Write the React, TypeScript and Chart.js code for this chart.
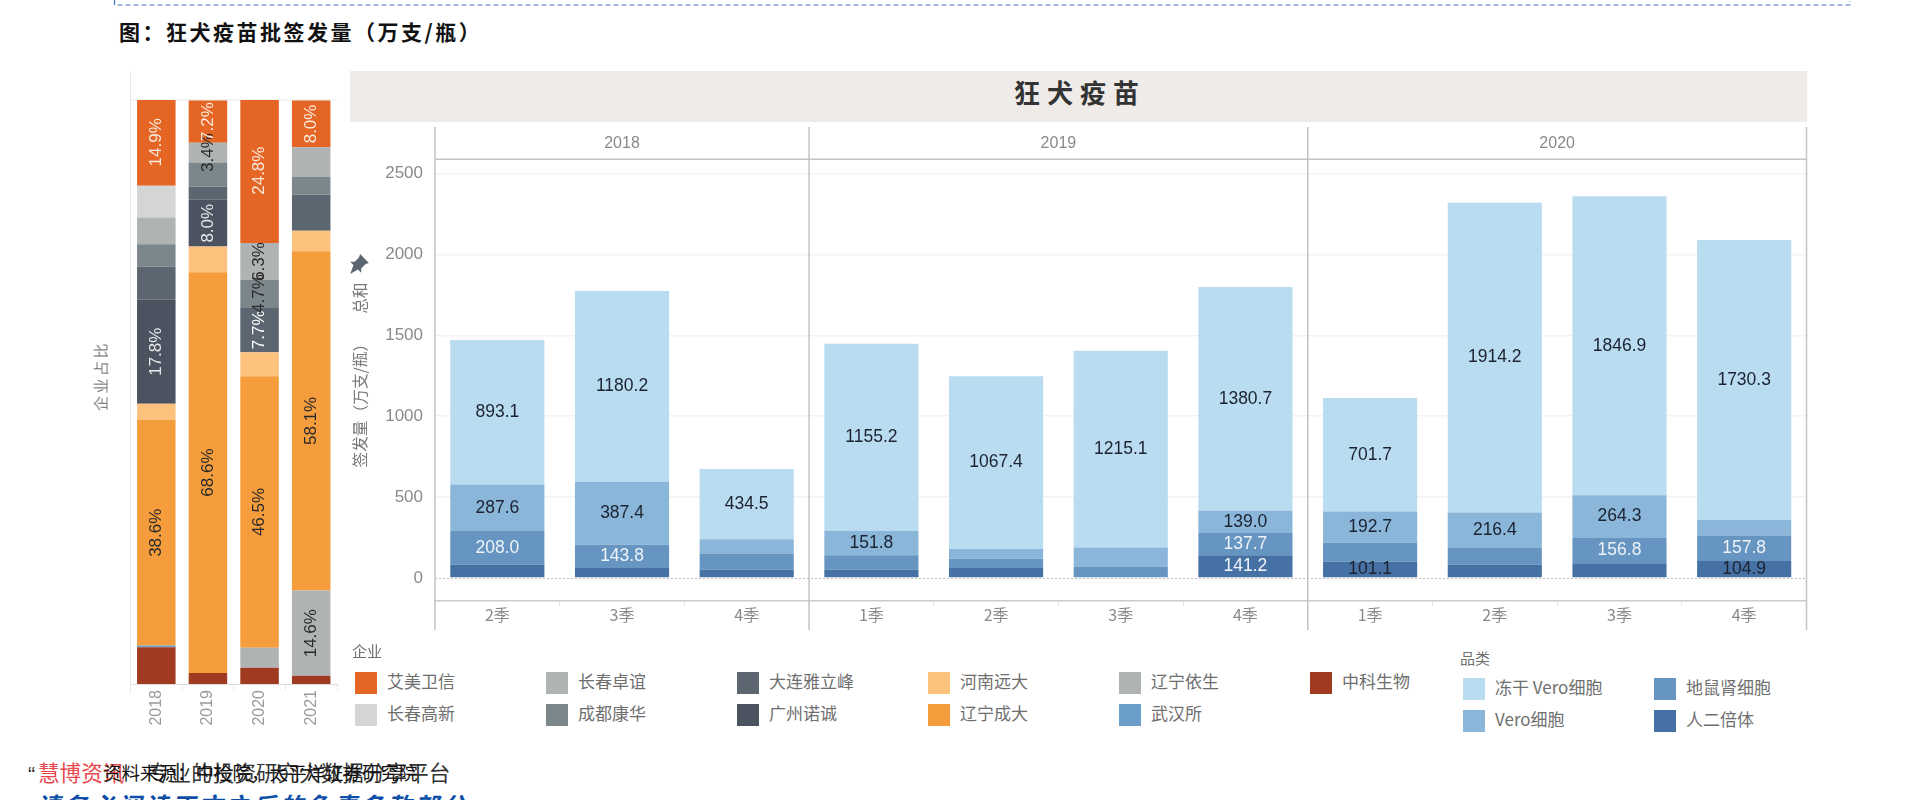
import { useEffect, useRef, type CSSProperties } from "react";
import { Chart, registerables, type Plugin } from "chart.js";

Chart.register(...registerables);

const SANS = '"Liberation Sans", sans-serif';
const CJK = '"Noto Sans CJK SC", sans-serif';

// left chart: company share per year, percent
const shareYears = ["2018", "2019", "2020", "2021"];
const zhongke = [6.3, 1.9, 2.8, 1.4];
const wuhan = [0.3, 0, 0, 0];
const yisheng = [0, 0, 3.4, 14.6];
const chengda = [38.6, 68.6, 46.5, 58.1];
const yuanda = [2.8, 4.4, 4.1, 3.5];
const nuocheng = [17.8, 8.0, 0, 0];
const yalifeng = [5.7, 2.3, 7.7, 6.2];
const kanghua = [3.8, 4.1, 4.7, 3.0];
const zhuoyi = [4.6, 3.4, 6.3, 5.1];
const gaoxin = [5.4, 0, 0, 0];
const aimei = [14.9, 7.2, 24.8, 8.0];

const chengdaText = ["38.6%", "68.6%", "46.5%", "58.1%"];
const yishengText = [null, null, null, "14.6%"];
const nuochengText = ["17.8%", "8.0%", null, null];
const yalifengText = [null, null, "7.7%", null];
const kanghuaText = [null, null, "4.7%", null];
const zhuoyiText = [null, "3.4%", "6.3%", null];
const aimeiText = ["14.9%", "7.2%", "24.8%", "8.0%"];

// main chart: batches per quarter
const quarters = ["2季", "3季", "4季", "1季", "2季", "3季", "4季", "1季", "2季", "3季", "4季"];
const panelYears = ["2018", "2019", "2020"];
const panelSizes = [3, 4, 4];
const diploid = [82, 62, 52, 52, 62, 0, 141.2, 101.1, 82, 91, 104.9];
const hamster = [208.0, 143.8, 99, 89, 58, 72, 137.7, 117, 107, 156.8, 157.8];
const vero = [287.6, 387.4, 88.6, 151.8, 60, 117, 139.0, 192.7, 216.4, 264.3, 97];
const freezeDried = [893.1, 1180.2, 434.5, 1155.2, 1067.4, 1215.1, 1380.7, 701.7, 1914.2, 1846.9, 1730.3];

const diploidText = [null, null, null, null, null, null, "141.2", "101.1", null, null, "104.9"];
const hamsterText = ["208.0", "143.8", null, null, null, null, "137.7", null, null, "156.8", "157.8"];
const veroText = ["287.6", "387.4", null, "151.8", null, null, "139.0", "192.7", "216.4", "264.3", null];
const freezeText = freezeDried.map((v) => v.toFixed(1));
const diploidTextColors = ["#fff", "#fff", "#fff", "#fff", "#fff", "#fff", "#f1f5f9", "#1c2230", "#fff", "#fff", "#1c2230"];

const yTicks = [0, 500, 1000, 1500, 2000, 2500];

const companyNames = ["艾美卫信", "长春高新", "长春卓谊", "成都康华", "大连雅立峰", "广州诺诚", "河南远大", "辽宁成大", "辽宁依生", "武汉所", "中科生物"];
const companyColors = ["#e46524", "#d4d5d5", "#b0b3b3", "#7c878c", "#5b6670", "#4b5260", "#fec27f", "#f59d3d", "#b0b3b3", "#6b9ec8", "#a03a21"];
const productNames = ["冻干 Vero细胞", "Vero细胞", "地鼠肾细胞", "人二倍体"];
const productColors = ["#b9dcf0", "#8ab6da", "#6595c0", "#4671a5"];

// writes the value text in the middle of each stacked segment
const segmentText: Plugin<"bar"> = {
  id: "segmentText",
  afterDatasetsDraw(chart) {
    const { ctx } = chart;
    const rotated = chart.canvas.dataset.rotated === "1";
    chart.data.datasets.forEach((ds: any, i) => {
      if (!ds.texts) return;
      chart.getDatasetMeta(i).data.forEach((bar: any, j) => {
        const text = ds.texts[j];
        if (!text) return;
        const mid = (bar.y + bar.base) / 2;
        ctx.save();
        ctx.translate(bar.x, mid);
        if (rotated) ctx.rotate(-Math.PI / 2);
        ctx.fillStyle = Array.isArray(ds.textColor) ? ds.textColor[j] : ds.textColor;
        ctx.font = `${rotated ? 17 : 17.5}px ${SANS}`;
        ctx.textAlign = "center";
        ctx.textBaseline = "middle";
        ctx.fillText(text, 0, 0);
        ctx.restore();
      });
    });
  },
};

const shareFrame: Plugin<"bar"> = {
  id: "shareFrame",
  beforeDatasetsDraw(chart) {
    const { ctx, chartArea } = chart;
    ctx.save();
    ctx.strokeStyle = "#e9e9e9";
    ctx.lineWidth = 1;
    ctx.beginPath();
    ctx.moveTo(chartArea.left, 11);
    ctx.lineTo(chartArea.left, chartArea.bottom + 10);
    ctx.moveTo(chartArea.left, chartArea.top);
    ctx.lineTo(chartArea.right, chartArea.top);
    ctx.stroke();
    ctx.restore();
  },
};

const panelFrame: Plugin<"bar"> = {
  id: "panelFrame",
  afterDatasetsDraw(chart) {
    const { ctx, chartArea, scales } = chart;
    const x = scales.x;
    const y = scales.y;
    const zero = y.getPixelForValue(0);
    ctx.save();
    ctx.strokeStyle = "#bdbdbd";
    ctx.setLineDash([2, 2]);
    ctx.lineWidth = 1;
    ctx.beginPath();
    ctx.moveTo(chartArea.left, zero + 0.5);
    ctx.lineTo(chartArea.right, zero + 0.5);
    ctx.stroke();
    ctx.setLineDash([]);

    ctx.strokeStyle = "#c4c4c4";
    ctx.lineWidth = 1.5;
    ctx.beginPath();
    ctx.moveTo(chartArea.left, chartArea.top);
    ctx.lineTo(chartArea.right, chartArea.top);
    ctx.stroke();

    const step = chartArea.width / quarters.length;
    let start = 0;
    const edges = [chartArea.left];
    panelSizes.forEach((size, i) => {
      const end = start + size;
      const left = x.getPixelForValue(start) - step / 2;
      const right = x.getPixelForValue(end - 1) + step / 2;
      edges.push(right);
      ctx.fillStyle = "#8a8a8a";
      ctx.font = `16px ${SANS}`;
      ctx.textAlign = "center";
      ctx.textBaseline = "middle";
      ctx.fillText(panelYears[i], (left + right) / 2, chartArea.top - 16);
      start = end;
    });
    ctx.beginPath();
    edges.forEach((edge) => {
      ctx.moveTo(edge, 2);
      ctx.lineTo(edge, chart.height - 5);
    });
    ctx.stroke();
    ctx.restore();
  },
};

function ShareChart() {
  const ref = useRef<HTMLCanvasElement>(null);

  useEffect(() => {
    if (!ref.current) return;
    const dark = "#2a2a2a";
    const light = "#ffffff";
    const chart = new Chart(ref.current, {
      type: "bar",
      data: {
        labels: shareYears,
        datasets: [
          { label: "中科生物", data: zhongke, backgroundColor: "#a03a21" },
          { label: "武汉所", data: wuhan, backgroundColor: "#6b9ec8" },
          { label: "辽宁依生", data: yisheng, backgroundColor: "#b0b3b3", texts: yishengText, textColor: dark },
          { label: "辽宁成大", data: chengda, backgroundColor: "#f59d3d", texts: chengdaText, textColor: dark },
          { label: "河南远大", data: yuanda, backgroundColor: "#fec27f" },
          { label: "广州诺诚", data: nuocheng, backgroundColor: "#4b5260", texts: nuochengText, textColor: "#e8e8e8" },
          { label: "大连雅立峰", data: yalifeng, backgroundColor: "#5b6670", texts: yalifengText, textColor: light },
          { label: "成都康华", data: kanghua, backgroundColor: "#7c878c", texts: kanghuaText, textColor: dark },
          { label: "长春卓谊", data: zhuoyi, backgroundColor: "#b0b3b3", texts: zhuoyiText, textColor: dark },
          { label: "长春高新", data: gaoxin, backgroundColor: "#d4d5d5" },
          { label: "艾美卫信", data: aimei, backgroundColor: "#e46524", texts: aimeiText, textColor: "#fbe9dd" },
        ] as any,
      },
      options: {
        responsive: false,
        animation: false,
        layout: { padding: { left: 30.5, top: 40, right: 8, bottom: 0 } },
        plugins: { legend: { display: false }, tooltip: { enabled: false } },
        datasets: { bar: { barPercentage: 0.746, categoryPercentage: 1 } },
        scales: {
          x: {
            stacked: true,
            grid: { offset: true, drawOnChartArea: false, color: "#e9e9e9", tickLength: 6 },
            border: { color: "#dddddd" },
            ticks: { color: "#9a9a9a", font: { family: SANS, size: 16 }, minRotation: 90, maxRotation: 90, padding: 0 },
            afterFit: (scale) => {
              scale.height = 61;
            },
          },
          y: { stacked: true, display: false, min: 0, max: 100 },
        },
      },
      plugins: [shareFrame, segmentText],
    });
    return () => chart.destroy();
  }, []);

  return (
    <canvas
      ref={ref}
      data-rotated="1"
      width={245}
      height={685}
      style={{ position: "absolute", left: 100, top: 60, display: "block" }}
    />
  );
}

function BatchChart() {
  const ref = useRef<HTMLCanvasElement>(null);

  useEffect(() => {
    if (!ref.current) return;
    const chart = new Chart(ref.current, {
      type: "bar",
      data: {
        labels: quarters,
        datasets: [
          { label: "人二倍体", data: diploid, backgroundColor: "#4671a5", texts: diploidText, textColor: diploidTextColors },
          { label: "地鼠肾细胞", data: hamster, backgroundColor: "#6595c0", texts: hamsterText, textColor: "#edf3f8" },
          { label: "Vero细胞", data: vero, backgroundColor: "#8ab6da", texts: veroText, textColor: "#1c2230" },
          { label: "冻干 Vero细胞", data: freezeDried, backgroundColor: "#b9dcf0", texts: freezeText, textColor: "#1c2230" },
        ] as any,
      },
      options: {
        responsive: false,
        animation: false,
        layout: { padding: { left: 0, top: 34.3, right: 18.5, bottom: 0 } },
        plugins: { legend: { display: false }, tooltip: { enabled: false } },
        datasets: { bar: { barPercentage: 0.755, categoryPercentage: 1 } },
        scales: {
          x: {
            stacked: true,
            grid: { offset: true, drawOnChartArea: false, color: "#e6e6e6", tickLength: 5 },
            border: { color: "#cccccc", width: 1.5 },
            ticks: { color: "#8a8a8a", font: { family: CJK, size: 16 }, maxRotation: 0, padding: 0 },
            afterFit: (scale) => {
              scale.height = 34.3;
            },
          },
          y: {
            stacked: true,
            min: -140,
            max: 2588,
            afterBuildTicks: (scale) => {
              scale.ticks = yTicks.map((value) => ({ value }));
            },
            grid: {
              drawTicks: false,
              color: (c) => (c.tick && c.tick.value === 0 ? "transparent" : "#f3f3f3"),
              lineWidth: 1.5,
            },
            border: { display: false },
            ticks: { color: "#8a8a8a", font: { family: SANS, size: 17 }, padding: 12, callback: (value) => String(value) },
            afterFit: (scale) => {
              scale.width = 90;
            },
          },
        },
      },
      plugins: [panelFrame, segmentText],
    });
    return () => chart.destroy();
  }, []);

  return (
    <canvas
      ref={ref}
      width={1480}
      height={510}
      style={{ position: "absolute", left: 345, top: 125, display: "block" }}
    />
  );
}

const abs = (left: number, top: number, extra: CSSProperties = {}): CSSProperties => ({
  position: "absolute",
  left,
  top,
  whiteSpace: "nowrap",
  fontFamily: CJK,
  ...extra,
});

function Legend({ names, colors, x, y, colStep, rowStep, rows }: {
  names: string[];
  colors: string[];
  x: number;
  y: number;
  colStep: number;
  rowStep: number;
  rows: number;
}) {
  return (
    <>
      {names.map((name, i) => {
        const col = Math.floor(i / rows);
        const row = i % rows;
        const left = x + col * colStep;
        const top = y + row * rowStep;
        return (
          <div key={name}>
            <div style={abs(left, top, { width: 22, height: 22, background: colors[i] })} />
            <div style={abs(left + 32, top - 2, { fontSize: 17, lineHeight: "22px", color: "#6f6f6f" })}>{name}</div>
          </div>
        );
      })}
    </>
  );
}

export default function App() {
  return (
    <div style={{ position: "absolute", left: 0, top: 0, width: 1920, height: 800, overflow: "hidden", background: "#fff" }}>
      <svg width="1920" height="8" style={{ position: "absolute", left: 0, top: 0 }}>
        <path d="M114.5 0 V5 H1850 V1" fill="none" stroke="#4a72c4" strokeWidth="1.2" strokeDasharray="5 3" />
      </svg>
      <div style={abs(119, 17, { fontSize: 21, lineHeight: "28px", letterSpacing: 2.5, fontWeight: 700, color: "#111" })}>
        图：狂犬疫苗批签发量（万支/瓶）
      </div>

      <div style={{ position: "absolute", left: 349.5, top: 71, width: 1457.5, height: 51, background: "#eeebe8" }} />
      <div
        style={abs(1080, 91, {
          transform: "translate(-50%, -50%)",
          fontSize: 26,
          fontWeight: 700,
          letterSpacing: 7,
          color: "#333",
        })}
      >
        狂犬疫苗
      </div>

      <ShareChart />
      <BatchChart />

      <div style={abs(100, 376, { transform: "translate(-50%, -50%) rotate(-90deg)", fontSize: 15, letterSpacing: 2.5, color: "#777" })}>
        企业占比
      </div>
      <div style={abs(359, 375, { transform: "translate(-50%, -50%) rotate(-90deg)", fontSize: 15.7, color: "#7a7a7a" })}>
        签发量（万支/瓶）<span style={{ marginLeft: 22 }}>总和</span>
      </div>
      <svg width="22" height="22" viewBox="0 0 20 20" style={{ position: "absolute", left: 348, top: 253 }}>
        <path d="M11 1 L19 9 L16 10 L12 14 L12 18 L9 15 L2 19 L5 11 L2 8 L6 8 L10 4 Z" fill="#5b6670" />
      </svg>

      <div style={abs(352, 640, { fontSize: 15, lineHeight: "22px", color: "#6f6f6f" })}>企业</div>
      <Legend names={companyNames} colors={companyColors} x={355} y={672} colStep={191} rowStep={31.5} rows={2} />
      <div style={abs(1460, 647, { fontSize: 15, lineHeight: "22px", color: "#6f6f6f" })}>品类</div>
      <Legend names={productNames} colors={productColors} x={1463} y={678} colStep={191} rowStep={31.5} rows={2} />

      <div style={abs(28, 758, { fontSize: 21.6, lineHeight: "30px", color: "#333" })}>
        <span style={{ fontFamily: SANS }}>“</span>
      </div>
      <div style={abs(38, 757, { fontSize: 21.6, lineHeight: "30px", color: "#e8474c" })}>慧博资讯</div>
      <div style={abs(148, 757, { fontSize: 21.6, lineHeight: "30px", color: "#333" })}>专业的投资研究大数据分享平台</div>
      <div style={abs(103, 759, { fontSize: 18.5, lineHeight: "26px", color: "#111" })}>资料来源：中检院，太平洋证券研究院</div>
      <div style={abs(36, 790, { fontSize: 24, lineHeight: "30px", letterSpacing: 3, fontWeight: 700, fontStyle: "italic", color: "#0f4fa8" })}>
        请务必阅读正文之后的免责条款部分
      </div>
    </div>
  );
}
